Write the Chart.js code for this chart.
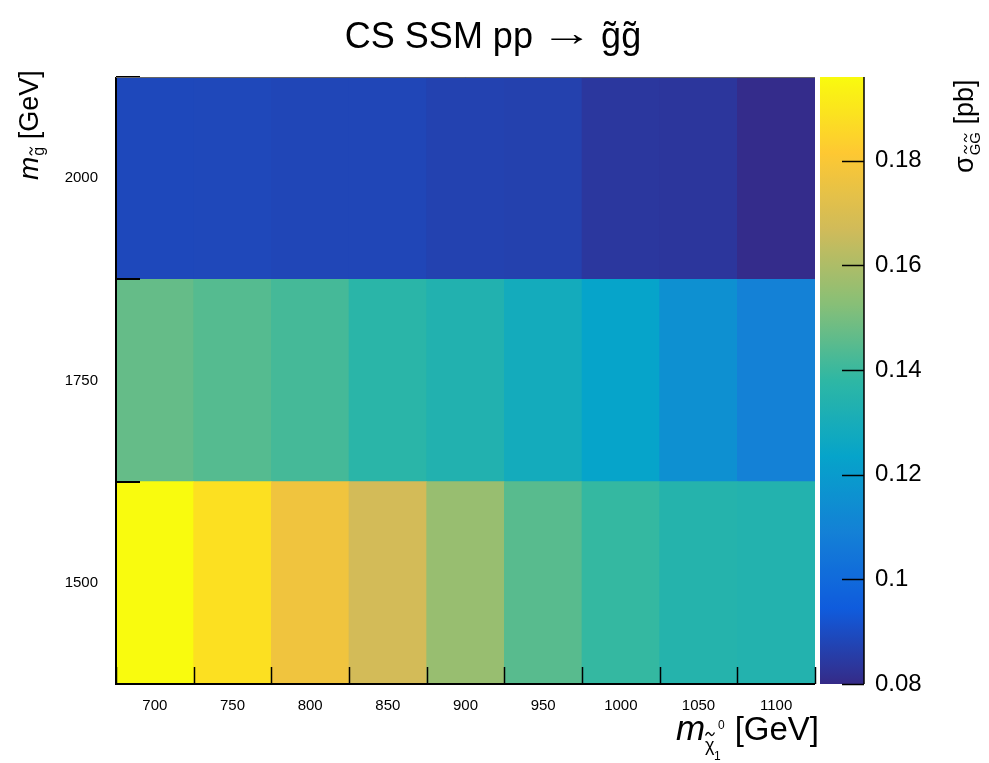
<!DOCTYPE html>
<html><head><meta charset="utf-8">
<script src="https://cdn.jsdelivr.net/npm/chart.js@4"></script>
<style>html,body{margin:0;padding:0;background:#fff}#wrap{width:989px;height:763px;position:relative}</style>
</head><body><div id="wrap"><canvas id="c"></canvas></div>
<script>
// ---- data ----
const neutralinoMass = ['700','750','800','850','900','950','1000','1050','1100'];
const gluinoMass = [1500, 1750, 2000];
const gluinoBinWidth = 250;
const xsec1500 = [0.196, 0.1883, 0.1772, 0.1676, 0.1559, 0.1449, 0.1390, 0.1348, 0.1340];
const xsec1750 = [0.1470, 0.1444, 0.1418, 0.1365, 0.1336, 0.1287, 0.1235, 0.1152, 0.1093];
const xsec2000 = [0.0887, 0.0886, 0.0881, 0.0880, 0.0868, 0.0866, 0.0838, 0.0835, 0.0806];
const zMin = 0.08, zMax = 0.196;
const zTicks = [0.08, 0.10, 0.12, 0.14, 0.16, 0.18];
const titleText = ['CS SSM pp', '\u2192', 'g\u0303g\u0303'];

// ---- kBird palette ----
const birdStops = [0, 0.125, 0.25, 0.375, 0.5, 0.625, 0.75, 0.875, 1];
const birdR = [0.2082, 0.0592, 0.0780, 0.0232, 0.1802, 0.5301, 0.8186, 0.9956, 0.9764];
const birdG = [0.1664, 0.3599, 0.5041, 0.6419, 0.7178, 0.7492, 0.7328, 0.7862, 0.9832];
const birdB = [0.5293, 0.8684, 0.8385, 0.7914, 0.6425, 0.4662, 0.3499, 0.1968, 0.0539];
function bird(f){
  f = Math.max(0, Math.min(1, f));
  let i = 0; while (i < 7 && f > birdStops[i+1]) i++;
  const t = (f - birdStops[i]) / (birdStops[i+1] - birdStops[i]);
  const c = k => Math.round(255 * (k[i] + (k[i+1] - k[i]) * t));
  return 'rgb(' + c(birdR) + ',' + c(birdG) + ',' + c(birdB) + ')';
}
function colorOf(v){ return bird((v - zMin) / (zMax - zMin)); }

const FONT = 'Liberation Sans, Arial, Helvetica, sans-serif';
const rows = [xsec1500, xsec1750, xsec2000];
const datasets = rows.map((vals, r) => ({
  label: 'm_gluino = ' + gluinoMass[r],
  data: vals.map(() => [gluinoMass[r] - gluinoBinWidth/2, gluinoMass[r] + gluinoBinWidth/2]),
  backgroundColor: vals.map(colorOf),
  borderWidth: 0, barPercentage: 1, categoryPercentage: 1, grouped: false, yAxisID: 'y'
}));

function tildePath(ctx, cx, cy, w, h, lw){
  ctx.save();
  ctx.lineWidth = lw; ctx.strokeStyle = '#000';
  ctx.beginPath();
  ctx.moveTo(cx - w/2, cy + h/2);
  ctx.bezierCurveTo(cx - w/4, cy - h, cx - w/8, cy - h/2, cx, cy);
  ctx.bezierCurveTo(cx + w/8, cy + h/2, cx + w/4, cy + h, cx + w/2, cy - h/2);
  ctx.stroke();
  ctx.restore();
}

const decor = {
  id: 'decor',
  afterDatasetsDraw(chart){
    const ctx = chart.ctx, a = chart.chartArea;
    const xs = chart.scales.x, ys = chart.scales.y, zs = chart.scales.z;
    ctx.save();
    ctx.strokeStyle = '#000';
    ctx.lineWidth = 2;
    gluinoMass.forEach(m => {
      [m - gluinoBinWidth/2, m + gluinoBinWidth/2].forEach(e => {
        const p = Math.round(ys.getPixelForValue(e));
        ctx.beginPath(); ctx.moveTo(a.left, p); ctx.lineTo(a.left + 24, p); ctx.stroke();
      });
    });
    ctx.lineWidth = 1.5;
    const step = xs.getPixelForValue(1) - xs.getPixelForValue(0);
    for (let i = 0; i <= neutralinoMass.length; i++){
      const p = Math.round(xs.getPixelForValue(i) - step/2) + 0.5;
      ctx.beginPath(); ctx.moveTo(p, a.bottom); ctx.lineTo(p, a.bottom - 17); ctx.stroke();
    }
    ctx.lineWidth = 2;
    ctx.beginPath(); ctx.moveTo(a.left, a.top); ctx.lineTo(a.left, a.bottom); ctx.lineTo(a.right, a.bottom); ctx.stroke();
    ctx.lineWidth = 1; ctx.strokeStyle = '#666';
    ctx.beginPath(); ctx.moveTo(a.left, a.top + 0.5); ctx.lineTo(a.right, a.top + 0.5); ctx.stroke();

    // colour bar
    const cbL = 820, cbR = 864;
    const yTop = zs.getPixelForValue(zMax), yBot = zs.getPixelForValue(zMin);
    const g = ctx.createLinearGradient(0, yBot, 0, yTop);
    for (let k = 0; k <= 64; k++) g.addColorStop(k/64, bird(k/64));
    ctx.fillStyle = g;
    ctx.fillRect(cbL, yTop, cbR - cbL, yBot - yTop);
    ctx.strokeStyle = '#000'; ctx.lineWidth = 1.5;
    ctx.beginPath(); ctx.moveTo(cbR, yTop); ctx.lineTo(cbR, yBot); ctx.stroke();
    zTicks.forEach(v => {
      const p = Math.round(zs.getPixelForValue(v)) + 0.5;
      ctx.beginPath(); ctx.moveTo(cbR - 22, p); ctx.lineTo(cbR, p); ctx.stroke();
    });
    ctx.restore();
  },
  afterDraw(chart){
    const ctx = chart.ctx;
    ctx.save();
    ctx.fillStyle = '#000';
    ctx.textBaseline = 'alphabetic';

    // title
    ctx.font = '36px ' + FONT;
    ctx.textAlign = 'left';
    const w1 = ctx.measureText(titleText[0]).width;
    const wa = ctx.measureText(titleText[1]).width * 1.45;
    const w3 = ctx.measureText(titleText[2]).width;
    const gap = 8;
    let x0 = 493 - (w1 + gap + wa + gap + w3) / 2;
    const by = 48;
    ctx.fillText(titleText[0], x0, by);
    ctx.save();
    ctx.translate(x0 + w1 + gap, by - 3);
    ctx.scale(1.45, 1);
    ctx.fillText(titleText[1], 0, 0);
    ctx.restore();
    ctx.fillText(titleText[2], x0 + w1 + gap + wa + gap, by);

    // x-axis title: m_{chi~_1^0} [GeV]
    ctx.font = 'italic 35px ' + FONT;
    ctx.fillText('m', 676, 740);
    ctx.font = '18px ' + FONT;
    ctx.fillText('\u03C7', 705, 751);
    tildePath(ctx, 710, 734, 9, 3, 1.3);
    ctx.font = '12px ' + FONT;
    ctx.fillText('0', 718, 729);
    ctx.fillText('1', 714, 760);
    ctx.font = '33px ' + FONT;
    ctx.textAlign = 'right';
    ctx.fillText('[GeV]', 819, 740);

    // y-axis title: m_{g~} [GeV]  (rotated)
    ctx.save();
    ctx.translate(38, 180);
    ctx.rotate(-Math.PI/2);
    ctx.textAlign = 'left';
    ctx.font = 'italic 28px ' + FONT;
    ctx.fillText('m', 0, 0);
    let w = ctx.measureText('m').width;
    ctx.font = '16px ' + FONT;
    ctx.fillText('g', w + 1, 6);
    const gw = ctx.measureText('g').width;
    tildePath(ctx, w + 1 + gw/2, -7, 8, 2.5, 1.2);
    ctx.font = '27px ' + FONT;
    ctx.fillText(' [GeV]', w + gw + 1, 0);
    ctx.restore();

    // colour-bar title: sigma_{G~G~} [pb] (rotated)
    ctx.save();
    ctx.translate(973, 173);
    ctx.rotate(-Math.PI/2);
    ctx.textAlign = 'left';
    ctx.font = '27px ' + FONT;
    ctx.fillText('\u03C3', 0, 0);
    w = ctx.measureText('\u03C3').width;
    ctx.font = '15px ' + FONT;
    ctx.fillText('GG', w + 1, 7);
    const g1 = ctx.measureText('G').width;
    tildePath(ctx, w + 1 + g1/2, -7.5, 8, 2.5, 1.1);
    tildePath(ctx, w + 1 + g1*1.5, -7.5, 8, 2.5, 1.1);
    const ggw = ctx.measureText('GG').width;
    ctx.font = '27px ' + FONT;
    ctx.fillText(' [pb]', w + ggw + 1, 0);
    ctx.restore();
    ctx.restore();
  }
};

new Chart(document.getElementById('c'), {
  type: 'bar',
  data: { labels: neutralinoMass, datasets: datasets },
  options: {
    responsive: true, maintainAspectRatio: false, animation: false,
    layout: { padding: { top: 77 } },
    plugins: { legend: { display: false }, tooltip: { enabled: false }, title: { display: false } },
    scales: {
      x: { type: 'category', offset: true,
           grid: { display: false, drawTicks: false }, border: { display: false },
           ticks: { color: '#000', font: { family: FONT, size: 15 }, padding: 13, maxRotation: 0, autoSkip: false },
           afterFit: s => { s.height = 79; } },
      y: { type: 'linear', min: gluinoMass[0] - gluinoBinWidth/2, max: gluinoMass[gluinoMass.length-1] + gluinoBinWidth/2,
           afterBuildTicks: s => { s.ticks = gluinoMass.map(v => ({ value: v })); },
           grid: { display: false, drawTicks: false }, border: { display: false },
           ticks: { color: '#000', font: { family: FONT, size: 15 }, padding: 18, callback: v => String(v) },
           afterFit: s => { s.width = 116; } },
      z: { type: 'linear', position: 'right', min: zMin, max: zMax,
           afterBuildTicks: s => { s.ticks = zTicks.map(v => ({ value: v })); },
           grid: { display: false, drawTicks: false }, border: { display: false },
           ticks: { color: '#000', font: { family: FONT, size: 24 }, padding: 60, callback: v => String(+v.toFixed(2)) },
           afterFit: s => { s.width = 174; } }
    }
  },
  plugins: [decor]
});
</script>
</body></html>
